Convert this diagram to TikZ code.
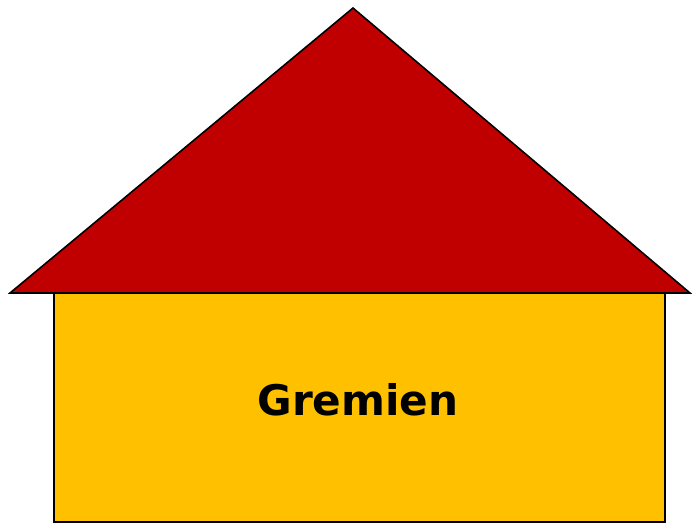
\documentclass[tikz,border=0pt]{standalone}
\usepackage{fontspec}
\setmainfont{DejaVu Sans}
\usepackage{tikz}
\definecolor{roofred}{HTML}{C00000}
\definecolor{wallyellow}{HTML}{FFC000}

\begin{document}
\begin{tikzpicture}[x=0.02cm, y=-0.02cm,
  part/.style={draw=black, line width=0.9pt, line join=miter},
  lbl/.style={font=\fontsize{24}{28}\selectfont\bfseries, text=black},
]
  \useasboundingbox (0,0) rectangle (692,525);

  %% -- wall ------------------------------------------------------------
  \filldraw[part, fill=wallyellow] (54,293) rectangle (665,522);

  %% -- roof ------------------------------------------------------------
  \filldraw[part, fill=roofred] (10,293) -- (353,8) -- (690,293) -- cycle;

  \node[lbl, anchor=base] (wall) at (358,415) {Gremien};
\end{tikzpicture}
\end{document}
